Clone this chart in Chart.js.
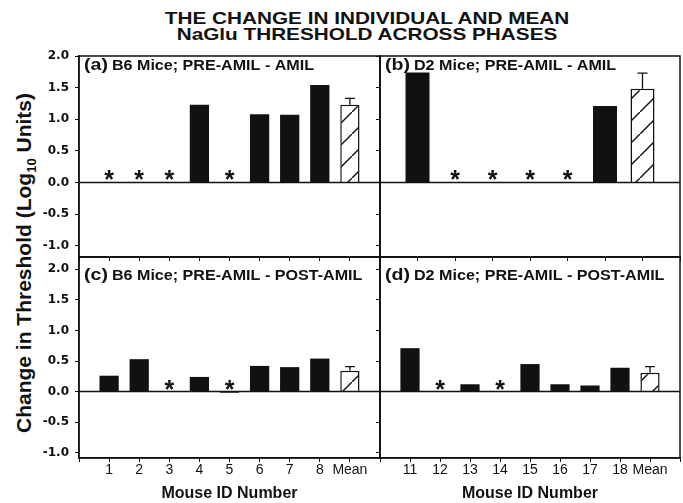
<!DOCTYPE html>
<html>
<head>
<meta charset="utf-8">
<script src="https://cdn.jsdelivr.net/npm/chart.js@4"></script>
<style>
  body { margin: 0; background: #fff; }
  #wrap { position: relative; width: 683px; height: 503px; overflow: hidden; font-family: "Liberation Sans", Arial, sans-serif; color: #111; }
  canvas { position: absolute; }
  .title { position: absolute; left: 0; width: 734px; text-align: center; font-weight: bold; font-size: 17px; line-height: 17px; transform: scaleX(1.22); white-space: nowrap; }
  #ylab { position: absolute; left: 24px; top: 263px; transform: translate(-50%, -50%) rotate(-90deg); font-weight: bold; font-size: 21px; white-space: nowrap; line-height: 22px; }
  #ylab sub { font-size: 13px; line-height: 0; }
</style>
</head>
<body>
<div id="wrap">
  <div class="title" style="top:10px">THE CHANGE IN INDIVIDUAL AND MEAN</div>
  <div class="title" style="top:26px">NaGlu THRESHOLD ACROSS PHASES</div>
  <div id="ylab">Change in Threshold (Log<sub>10</sub> Units)</div>
  <canvas id="pa" width="384" height="216" style="left:0;top:46px"></canvas>
  <canvas id="pb" width="308" height="216" style="left:376px;top:46px"></canvas>
  <canvas id="pc" width="384" height="253" style="left:0;top:250px"></canvas>
  <canvas id="pd" width="308" height="253" style="left:376px;top:250px"></canvas>
</div>
<script>
// mouse ids per panel
const idsB6 = ['1', '2', '3', '4', '5', '6', '7', '8', 'Mean'];
const idsD2Amil = ['11', '12', '13', '14', '15', '18', 'Mean'];
const idsD2 = ['11', '12', '13', '14', '15', '16', '17', '18', 'Mean'];

// change in threshold (log10 units), null = no bar
const b6Amil = [null, null, null, 1.23, null, 1.08, 1.07, 1.54, 1.23];
const d2Amil = [1.74, null, null, null, null, 1.21, 1.48];
const b6Post = [0.26, 0.53, null, 0.24, -0.02, 0.42, 0.40, 0.54, 0.34];
const d2Post = [0.71, null, 0.12, null, 0.45, 0.12, 0.10, 0.39, 0.31];

// SEM of the mean bars
const b6AmilSem = 0.10;
const d2AmilSem = 0.25;
const b6PostSem = 0.07;
const d2PostSem = 0.10;

// mice marked with an asterisk
const b6AmilStars = ['1', '2', '3', '5'];
const d2AmilStars = ['12', '13', '14', '15'];
const b6PostStars = ['3', '5'];
const d2PostStars = ['12', '14'];

const yTicks = [-1.0, -0.5, 0.0, 0.5, 1.0, 1.5, 2.0];

const INK = '#111';

function hatch() {
  const c = document.createElement('canvas');
  c.width = 22; c.height = 22;
  const g = c.getContext('2d');
  g.fillStyle = '#fff';
  g.fillRect(0, 0, 22, 22);
  g.strokeStyle = INK;
  g.lineWidth = 1.4;
  g.beginPath();
  g.moveTo(-2, 24); g.lineTo(24, -2);
  g.stroke();
  return g.createPattern(c, 'repeat');
}
const pattern = hatch();

function noPad(s) {
  s.paddingLeft = 0; s.paddingRight = 0; s.paddingTop = 0; s.paddingBottom = 0;
}

function panelPlugin(o) {
  return {
    id: 'panel',
    afterDatasetsDraw(chart) {
      const { ctx, chartArea: a, scales: { x, y } } = chart;
      ctx.save();
      ctx.strokeStyle = INK;
      ctx.lineWidth = 1.5;
      ctx.strokeRect(a.left, a.top, a.right - a.left, a.bottom - a.top);
      const y0 = y.getPixelForValue(0);
      ctx.beginPath();
      ctx.moveTo(a.left, y0); ctx.lineTo(a.right, y0);
      ctx.stroke();

      // error bar on the mean
      const mi = o.ids.indexOf('Mean');
      const el = chart.getDatasetMeta(0).data[mi];
      const top = y.getPixelForValue(o.values[mi] + o.sem);
      ctx.lineWidth = 1.3;
      ctx.beginPath();
      ctx.moveTo(el.x, el.y); ctx.lineTo(el.x, top);
      ctx.moveTo(el.x - 5, top); ctx.lineTo(el.x + 5, top);
      ctx.stroke();

      // asterisks
      ctx.fillStyle = INK;
      ctx.font = 'bold 25px "Liberation Sans"';
      ctx.textAlign = 'center';
      ctx.textBaseline = 'alphabetic';
      const m = ctx.measureText('*');
      o.stars.forEach(s => {
        const px = x.getPixelForValue(o.ids.indexOf(s) + 1);
        const cy = y0 - 7;
        ctx.fillText('*', px, cy + (m.actualBoundingBoxAscent - m.actualBoundingBoxDescent) / 2);
      });

      // panel label
      ctx.translate(a.left + 5, a.top + o.labelDy);
      ctx.scale(1.15, 1);
      ctx.textAlign = 'left';
      ctx.font = 'bold 17px "Liberation Sans"';
      ctx.fillText(o.tag, 0, 0);
      const w = ctx.measureText(o.tag).width;
      ctx.font = 'bold 14px "Liberation Sans"';
      ctx.fillText(o.text, w + 3.5, 0);
      ctx.restore();
    }
  };
}

function makePanel(id, o) {
  const n = o.ids.length;
  new Chart(document.getElementById(id), {
    type: 'bar',
    data: {
      datasets: [{
        data: o.ids.map((k, i) => ({ x: i + 1, y: o.values[i] })),
        backgroundColor: o.ids.map(k => k === 'Mean' ? pattern : INK),
        borderColor: INK,
        borderWidth: o.ids.map(k => k === 'Mean' ? 1.5 : 0),
        categoryPercentage: 0.8,
        barPercentage: 0.8
      }]
    },
    options: {
      responsive: false,
      animation: false,
      devicePixelRatio: 1,
      layout: { padding: { left: 0, right: 4, top: o.padTop, bottom: 0 } },
      plugins: { legend: { display: false }, tooltip: { enabled: false } },
      scales: {
        x: {
          type: 'linear',
          min: 0,
          max: n + 1,
          offset: false,
          grid: { display: true, offset: false, drawOnChartArea: false, drawTicks: true, tickLength: 4, color: INK, lineWidth: 1 },
          border: { display: true, color: INK, width: 1.5 },
          afterBuildTicks: s => { s.ticks = Array.from({ length: n + 2 }, (_, v) => ({ value: v })); },
          afterFit: s => { s.height = o.xHeight; noPad(s); },
          ticks: {
            display: o.showX,
            autoSkip: false,
            minRotation: 0,
            maxRotation: 0,
            padding: 0,
            color: INK,
            font: { family: '"Liberation Sans"', size: 14 },
            callback: v => o.ids[v - 1] || ''
          },
          title: {
            display: o.showX,
            text: 'Mouse ID Number',
            color: INK,
            padding: { top: 0, bottom: 0 },
            font: { family: '"Liberation Sans"', size: 16, weight: 'bold' }
          }
        },
        y: {
          min: o.yMin,
          max: o.yMax,
          grid: { display: true, drawOnChartArea: false, drawTicks: true, tickLength: 4, color: INK, lineWidth: 1 },
          border: { display: true, color: INK, width: 1.5 },
          afterBuildTicks: s => { s.ticks = yTicks.map(v => ({ value: v })); },
          afterFit: s => { s.width = o.yWidth; noPad(s); },
          ticks: {
            display: o.showY,
            padding: 6,
            color: INK,
            font: { family: '"DejaVu Sans"', size: 12, weight: 'bold' },
            callback: v => v.toFixed(1)
          }
        }
      }
    },
    plugins: [panelPlugin(o)]
  });
}

const topBox = { padTop: 10, xHeight: 5, yMin: -1.18, yMax: 2.0, showX: false, labelDy: 13.5 };
const botBox = { padTop: 7, xHeight: 45, yMin: -1.085, yMax: 2.2, showX: true, labelDy: 22.5 };

makePanel('pa', Object.assign({}, topBox, { ids: idsB6, values: b6Amil, sem: b6AmilSem, stars: b6AmilStars,
  yWidth: 79, showY: true, tag: '(a)', text: 'B6 Mice; PRE-AMIL - AMIL' }));
makePanel('pb', Object.assign({}, topBox, { ids: idsD2Amil, values: d2Amil, sem: d2AmilSem, stars: d2AmilStars,
  yWidth: 4, showY: false, tag: '(b)', text: 'D2 Mice; PRE-AMIL - AMIL' }));
makePanel('pc', Object.assign({}, botBox, { ids: idsB6, values: b6Post, sem: b6PostSem, stars: b6PostStars,
  yWidth: 79, showY: true, tag: '(c)', text: 'B6 Mice; PRE-AMIL - POST-AMIL' }));
makePanel('pd', Object.assign({}, botBox, { ids: idsD2, values: d2Post, sem: d2PostSem, stars: d2PostStars,
  yWidth: 4, showY: false, tag: '(d)', text: 'D2 Mice; PRE-AMIL - POST-AMIL' }));
</script>
</body>
</html>
